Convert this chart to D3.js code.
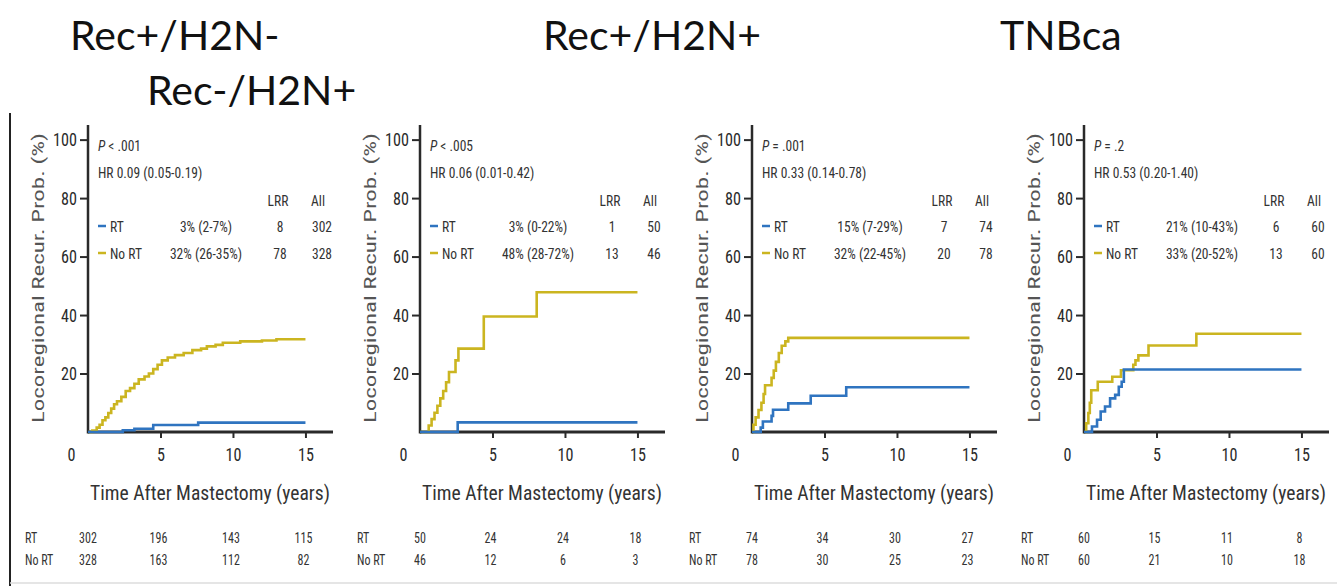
<!DOCTYPE html>
<html>
<head>
<meta charset="utf-8">
<script src="https://cdn.jsdelivr.net/npm/d3@7"></script>
<style>
  body { margin: 0; background: #fff; }
  svg { display: block; }
  .narrow { font-family: "Liberation Sans Narrow", "Roboto Condensed", Roboto, "Liberation Sans", Arial, sans-serif; }
  .title { font-family: Lato, "Open Sans", sans-serif; }
</style>
</head>
<body>
<svg id="chart" width="1337" height="586"></svg>
<script>
// Subtype headings
const subtypeTitles = ["Rec+/H2N-", "Rec+/H2N+", "TNBca", "Rec-/H2N+"];

// Legend statistics per panel
const pValues = ["< .001", "< .005", "= .001", "= .2"];
const hazardRatios = ["HR 0.09 (0.05-0.19)", "HR 0.06 (0.01-0.42)", "HR 0.33 (0.14-0.78)", "HR 0.53 (0.20-1.40)"];
const rtRates = ["3% (2-7%)", "3% (0-22%)", "15% (7-29%)", "21% (10-43%)"];
const noRtRates = ["32% (26-35%)", "48% (28-72%)", "32% (22-45%)", "33% (20-52%)"];
const rtLRR = [8, 1, 7, 6];
const rtAll = [302, 50, 74, 60];
const noRtLRR = [78, 13, 20, 13];
const noRtAll = [328, 46, 78, 60];

// Numbers at risk at 0, 5, 10, 15 years
const riskTimes = [0, 5, 10, 15];
const rtAtRisk = [[302, 196, 143, 115], [50, 24, 24, 18], [74, 34, 30, 27], [60, 15, 11, 8]];
const noRtAtRisk = [[328, 163, 112, 82], [46, 12, 6, 3], [78, 30, 25, 23], [60, 21, 10, 18]];

// Axis ticks
const yTicks = [20, 40, 60, 80, 100];
const xTicks = [0, 5, 10, 15];

// Cumulative locoregional recurrence: [years, percent], step after each time
const rtCurve1 = [[0, 0], [2.4, 0.6], [3.2, 1.1], [4.5, 2.4], [7.6, 3.2], [15, 3.2]];
const noRtCurve1 = [[0, 0], [0.3, 0.5], [0.6, 1.5], [0.8, 2.5], [1.0, 4], [1.2, 5], [1.4, 6.5], [1.6, 8],
  [1.8, 9.5], [2.0, 10.5], [2.3, 12], [2.6, 14], [2.9, 15], [3.2, 16.5], [3.5, 18], [3.9, 19], [4.2, 20],
  [4.5, 21.5], [4.8, 23], [5.1, 24.5], [5.5, 25.5], [6.0, 26.3], [6.6, 27], [7.2, 28], [7.8, 28.5],
  [8.2, 29.3], [8.8, 29.8], [9.3, 30.5], [10.5, 31], [12, 31.3], [13, 31.7], [15, 31.7]];
const rtCurve2 = [[0, 0], [2.6, 3.3], [15, 3.3]];
const noRtCurve2 = [[0, 0], [0.6, 2.2], [0.8, 4.4], [1.0, 6.6], [1.2, 9], [1.4, 11.5], [1.6, 14], [1.8, 17],
  [2.0, 20.5], [2.45, 24.5], [2.65, 28.5], [4.4, 39.5], [8.05, 47.8], [15, 47.8]];
const rtCurve3 = [[0, 0], [0.6, 1.5], [0.75, 3.6], [1.35, 5.5], [1.45, 7.6], [2.5, 9.8], [4.05, 12.4], [6.5, 15.3], [15, 15.3]];
const noRtCurve3 = [[0, 0], [0.1, 2.5], [0.25, 5], [0.45, 7.5], [0.65, 10], [0.8, 13], [0.9, 16], [1.35, 18.5],
  [1.5, 21], [1.65, 24], [1.85, 27], [2.05, 29.5], [2.3, 31], [2.5, 32.2], [15, 32.2]];
const rtCurve4 = [[0, 0], [0.55, 1.9], [0.9, 4.2], [1.15, 7], [1.45, 8.7], [1.8, 11.5], [2.15, 12.7],
  [2.4, 15.5], [2.6, 17.2], [2.75, 21.4], [15, 21.4]];
const noRtCurve4 = [[0, 0], [0.15, 3], [0.3, 6.5], [0.4, 10], [0.5, 14.3], [0.95, 17.2], [1.95, 18.9],
  [2.55, 21.1], [3.4, 23], [3.55, 24.5], [3.75, 26.2], [4.45, 29.6], [7.75, 33.6], [15, 33.6]];

const rtCurves = [rtCurve1, rtCurve2, rtCurve3, rtCurve4];
const noRtCurves = [noRtCurve1, noRtCurve2, noRtCurve3, noRtCurve4];

const RT_COLOR = "#2f74c0";
const NORT_COLOR = "#cbb520";
const INK = "#2a2a2a";
const NARROW = "\"Liberation Sans Narrow\", \"Roboto Condensed\", Roboto, \"Liberation Sans\", sans-serif";

// Squeeze text horizontally to get a condensed look
function condense(sel, factor) {
  sel.each(function () {
    const w = this.getComputedTextLength();
    if (w > 0) {
      d3.select(this).attr("textLength", w * factor).attr("lengthAdjust", "spacingAndGlyphs");
    }
  });
}

const svg = d3.select("#chart");

// Headings
const titleSpec = [
  { text: subtypeTitles[0], x: 70, y: 50 },
  { text: subtypeTitles[1], x: 543, y: 50 },
  { text: subtypeTitles[2], x: 1000, y: 50 },
  { text: subtypeTitles[3], x: 147, y: 105 }
];
svg.selectAll("text.title").data(titleSpec).join("text")
  .attr("class", "title")
  .attr("x", d => d.x).attr("y", d => d.y)
  .attr("font-size", 41).attr("fill", "#111")
  .text(d => d.text);

// Frame line on the left and faint bottom rule
svg.append("line").attr("x1", 10).attr("x2", 10).attr("y1", 113).attr("y2", 586)
  .attr("stroke", "#222").attr("stroke-width", 2);
svg.append("line").attr("x1", 10).attr("x2", 1337).attr("y1", 583).attr("y2", 583)
  .attr("stroke", "#ddd").attr("stroke-width", 1.5);

const yTop = 125, yBottom = 432;
const y = d3.scaleLinear().domain([0, 105]).range([yBottom, yTop]);

const line = d3.line().curve(d3.curveStepAfter);

for (let i = 0; i < 4; i++) {
  const x0 = 88 + i * 332;
  const x = d3.scaleLinear().domain([0, 16.9]).range([x0, x0 + 245]);
  const g = svg.append("g").attr("class", "narrow");

  // y-axis
  const yAxis = d3.axisLeft(y).tickValues(yTicks).tickSize(8).tickPadding(3).tickFormat(d3.format("d"));
  const ya = g.append("g").attr("transform", `translate(${x0},0)`).call(yAxis);
  ya.select(".domain").remove();
  ya.selectAll(".tick line").attr("stroke", INK).attr("stroke-width", 2);
  ya.selectAll(".tick text").attr("fill", INK).attr("font-size", 19).attr("font-family", NARROW)
    .call(condense, 0.85);
  g.append("line").attr("x1", x0).attr("x2", x0).attr("y1", yTop).attr("y2", yBottom + 1.5)
    .attr("stroke", INK).attr("stroke-width", 2.5);

  // x-axis
  const xAxis = d3.axisBottom(x).tickValues(xTicks).tickSize(6).tickPadding(10).tickFormat(d3.format("d"));
  const xa = g.append("g").attr("transform", `translate(0,${yBottom})`).call(xAxis);
  xa.select(".domain").remove();
  xa.selectAll(".tick line").attr("stroke", INK).attr("stroke-width", 2)
    .filter(d => d === 0).remove();
  xa.selectAll(".tick text").attr("fill", INK).attr("font-size", 19).attr("font-family", NARROW)
    .attr("dx", d => d === 0 ? -17 : 0)
    .call(condense, 0.85);
  g.append("line").attr("x1", x0).attr("x2", x0 + 245).attr("y1", yBottom).attr("y2", yBottom)
    .attr("stroke", INK).attr("stroke-width", 3);

  // y-axis title
  g.append("text")
    .attr("transform", `translate(${x0 - 44},278) rotate(-90)`)
    .attr("text-anchor", "middle")
    .attr("font-size", 17).attr("fill", "#555")
    .attr("textLength", 290).attr("lengthAdjust", "spacingAndGlyphs")
    .text("Locoregional Recur. Prob. (%)");

  // x-axis title, squeezed with a horizontal scale so its box stays exact
  const xt = g.append("text")
    .attr("text-anchor", "middle")
    .attr("font-size", 21).attr("fill", "#333")
    .text("Time After Mastectomy (years)");
  const xtw = xt.node().getComputedTextLength();
  xt.attr("transform", `translate(${x0 + 122},500) scale(${240 / xtw},1)`);

  // curves
  g.append("path").datum(noRtCurves[i].map(d => [x(d[0]), y(d[1])]))
    .attr("d", line).attr("fill", "none").attr("stroke", NORT_COLOR).attr("stroke-width", 2.6);
  g.append("path").datum(rtCurves[i].map(d => [x(d[0]), y(d[1])]))
    .attr("d", line).attr("fill", "none").attr("stroke", RT_COLOR).attr("stroke-width", 2.6);

  // legend block
  const lg = g.append("g").attr("fill", "#333").attr("font-size", 15);
  const pt = lg.append("text").attr("x", x0 + 10).attr("y", 151);
  pt.append("tspan").attr("font-style", "italic").text("P");
  pt.append("tspan").text(" " + pValues[i]);
  lg.append("text").attr("x", x0 + 10).attr("y", 178).text(hazardRatios[i]);
  lg.append("text").attr("x", x0 + 190).attr("y", 206).attr("text-anchor", "middle").text("LRR");
  lg.append("text").attr("x", x0 + 230).attr("y", 206).attr("text-anchor", "middle").text("All");

  const rows = [
    { label: "RT", color: RT_COLOR, rate: rtRates[i], lrr: rtLRR[i], all: rtAll[i], yy: 232 },
    { label: "No RT", color: NORT_COLOR, rate: noRtRates[i], lrr: noRtLRR[i], all: noRtAll[i], yy: 259 }
  ];
  rows.forEach(r => {
    lg.append("line").attr("x1", x0 + 10).attr("x2", x0 + 18).attr("y1", r.yy - 6).attr("y2", r.yy - 6)
      .attr("stroke", r.color).attr("stroke-width", 2.5);
    lg.append("text").attr("x", x0 + 22).attr("y", r.yy).text(r.label);
    lg.append("text").attr("x", x0 + 118).attr("y", r.yy).attr("text-anchor", "middle").text(r.rate);
    lg.append("text").attr("x", x0 + 192).attr("y", r.yy).attr("text-anchor", "middle").text(r.lrr);
    lg.append("text").attr("x", x0 + 234).attr("y", r.yy).attr("text-anchor", "middle").text(r.all);
  });
  lg.selectAll("text").call(condense, 0.9);

  // numbers at risk
  const rk = g.append("g").attr("fill", "#333").attr("font-size", 15);
  rk.append("text").attr("x", x0 - 63).attr("y", 543).text("RT");
  rk.append("text").attr("x", x0 - 63).attr("y", 565).text("No RT");
  riskTimes.forEach((t, j) => {
    rk.append("text").attr("x", x(t) - (j === 0 ? 0 : 2)).attr("y", 543).attr("text-anchor", "middle").text(rtAtRisk[i][j]);
    rk.append("text").attr("x", x(t) - (j === 0 ? 0 : 2)).attr("y", 565).attr("text-anchor", "middle").text(noRtAtRisk[i][j]);
  });
  rk.selectAll("text").call(condense, 0.8);
}
</script>
</body>
</html>
